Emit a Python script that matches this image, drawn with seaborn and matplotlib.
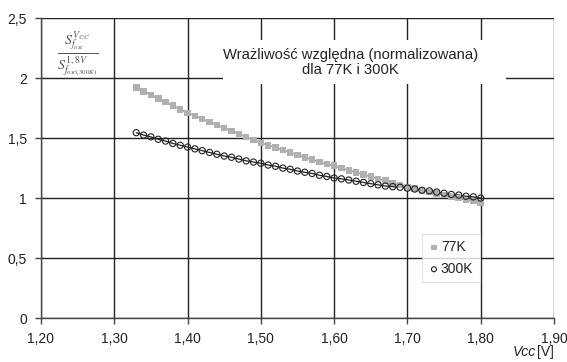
import matplotlib
matplotlib.use("Agg")
import matplotlib.pyplot as plt
import seaborn as sns
import pandas as pd
from matplotlib.patches import Rectangle
from matplotlib.ticker import FuncFormatter

vcc = [1.33, 1.34, 1.35, 1.36, 1.37, 1.38, 1.39, 1.40, 1.41, 1.42, 1.43, 1.44,
       1.45, 1.46, 1.47, 1.48, 1.49, 1.50, 1.51, 1.52, 1.53, 1.54, 1.55, 1.56,
       1.57, 1.58, 1.59, 1.60, 1.61, 1.62, 1.63, 1.64, 1.65, 1.66, 1.67, 1.68,
       1.69, 1.70, 1.71, 1.72, 1.73, 1.74, 1.75, 1.76, 1.77, 1.78, 1.79, 1.80]
s77 = [1.92, 1.89, 1.86, 1.83, 1.80, 1.77, 1.74, 1.71, 1.685, 1.66, 1.635, 1.61,
       1.585, 1.56, 1.535, 1.51, 1.485, 1.46, 1.44, 1.42, 1.40, 1.38, 1.36, 1.34,
       1.32, 1.30, 1.285, 1.27, 1.25, 1.23, 1.215, 1.195, 1.18, 1.16, 1.145, 1.125,
       1.11, 1.09, 1.08, 1.065, 1.05, 1.04, 1.025, 1.01, 1.00, 0.985, 0.975, 0.96]
s300 = [1.545, 1.525, 1.51, 1.49, 1.475, 1.455, 1.44, 1.425, 1.41, 1.395, 1.38, 1.365,
        1.35, 1.34, 1.325, 1.31, 1.30, 1.29, 1.275, 1.265, 1.25, 1.24, 1.225, 1.215,
        1.205, 1.19, 1.18, 1.167, 1.16, 1.15, 1.14, 1.13, 1.12, 1.11, 1.10, 1.095,
        1.09, 1.083, 1.075, 1.065, 1.06, 1.05, 1.04, 1.03, 1.025, 1.015, 1.01, 1.00]
series_names = ["77K", "300K"]
xticks = [1.20, 1.30, 1.40, 1.50, 1.60, 1.70, 1.80, 1.90]
yticks = [0, 0.5, 1, 1.5, 2, 2.5]

df77 = pd.DataFrame({"Vcc": vcc, "S": s77})
df300 = pd.DataFrame({"Vcc": vcc, "S": s300})

sns.set_style("white")
plt.rcParams["font.family"] = ["Liberation Sans", "DejaVu Sans"]
plt.rcParams["mathtext.fontset"] = "stix"

fig = plt.figure(figsize=(5.67, 3.62), dpi=100)
ax = fig.add_axes([0.0723, 0.1215, 0.9047, 0.8285])

# lines
sns.lineplot(data=df77, x="Vcc", y="S", ax=ax, color="#a0a0a0", lw=1.2, zorder=3)
sns.lineplot(data=df300, x="Vcc", y="S", ax=ax, color="#222222", lw=0.9, zorder=3)
# markers
sns.scatterplot(data=df77, x="Vcc", y="S", ax=ax, marker="s", s=22, color="#b0b0b0",
                edgecolor="none", zorder=4, label=series_names[0])
sns.scatterplot(data=df300, x="Vcc", y="S", ax=ax, marker="o", s=20, facecolor="none",
                edgecolor="#222222", linewidth=0.8, zorder=5, label=series_names[1])

ax.set_xlim(xticks[0], xticks[-1])
ax.set_ylim(yticks[0], yticks[-1])
ax.set_xticks(xticks)
ax.set_yticks(yticks)
ax.xaxis.set_major_formatter(FuncFormatter(lambda v, p: f"{v:.2f}".replace(".", ",")))
ax.yaxis.set_major_formatter(FuncFormatter(lambda v, p: (f"{v:g}").replace(".", ",")))
ax.grid(True, color="#222222", lw=1.0, zorder=1)
ax.set_axisbelow(True)
for sp in ["top", "right"]:
    ax.spines[sp].set_visible(False)
for sp in ["left", "bottom"]:
    ax.spines[sp].set_color("#444444")
    ax.spines[sp].set_linewidth(1.0)
ax.tick_params(axis="both", which="major", length=4, width=1.0, color="#444444",
               direction="out", labelsize=10, labelcolor="#222222", pad=6,
               bottom=True, left=True)
ax.set_xlabel("")
ax.set_ylabel("")

# white box hiding grid behind the annotation
ax.add_patch(Rectangle((1.448, 1.95), 0.386, 0.37, facecolor="white", edgecolor="none",
                       zorder=2))
ax.text(1.622, 2.13, "Wrażliwość względna (normalizowana)\ndla 77K i 300K",
        ha="center", va="center", fontsize=10.6, color="#222222", linespacing=1.15,
        zorder=6)

# y label as fraction
ax.text(1.2505, 2.2, r"$\frac{S^{V_{CC}}_{f_{osc}}}{S^{1,8V}_{f_{osc(300K)}}}$",
        ha="center", va="center", fontsize=14.5, color="#555555", zorder=6)

# x label
ax.text(1.0, -0.09, "[V]", transform=ax.transAxes, ha="right", va="top",
        fontsize=10, color="#222222")
ax.text(0.966, -0.09, "Vcc", transform=ax.transAxes, ha="right", va="top",
        fontsize=10, color="#222222", fontstyle="italic")

leg = ax.legend(loc="upper left", bbox_to_anchor=(0.743, 0.28), frameon=True,
                fontsize=10, handletextpad=0.1, handlelength=0.8, borderpad=0.45,
                labelspacing=0.55, fancybox=False, markerscale=0.8,
                borderaxespad=0)
leg.get_frame().set_edgecolor("#dddddd")
leg.get_frame().set_linewidth(0.8)
for t in leg.get_texts():
    t.set_color("#222222")

fig.savefig("out.png", dpi=100)
